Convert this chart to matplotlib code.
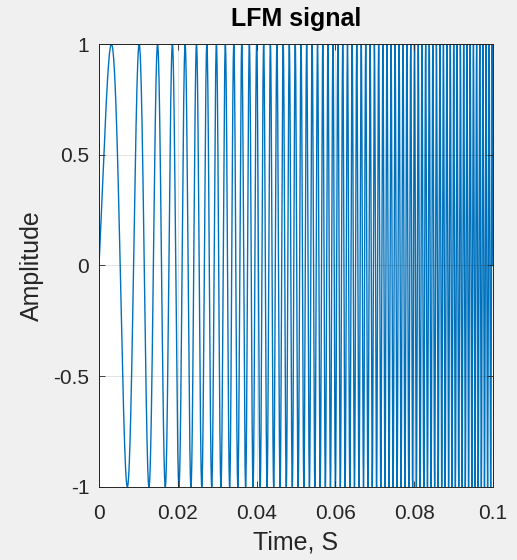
import numpy as np
import matplotlib
matplotlib.use("Agg")
import matplotlib.pyplot as plt

# LFM (chirp) parameters
duration = 0.1         # s
sample_rate = 100000   # Hz
start_freq = 60.0      # Hz
chirp_rate = 12300.0   # Hz/s

x_ticks = [0, 0.02, 0.04, 0.06, 0.08, 0.1]
x_tick_labels = ["0", "0.02", "0.04", "0.06", "0.08", "0.1"]
y_ticks = [-1, -0.5, 0, 0.5, 1]
y_tick_labels = ["-1", "-0.5", "0", "0.5", "1"]

t = np.arange(0, duration + 0.5 / sample_rate, 1.0 / sample_rate)
signal = np.sin(2 * np.pi * (start_freq * t + 0.5 * chirp_rate * t ** 2))

plt.rcParams["font.family"] = ["Liberation Sans", "DejaVu Sans"]

fig = plt.figure(figsize=(5.17, 5.6), dpi=100, facecolor="#f0f0f0")
ax = fig.add_axes([0.1915, 0.1304, 0.762, 0.791])
ax.set_facecolor("white")

ax.plot(t, signal, color="#0072BD", linewidth=1.0, zorder=1)

ax.set_xlim(0, duration)
ax.set_ylim(-1, 1)
ax.set_xticks(x_ticks)
ax.set_xticklabels(x_tick_labels)
ax.set_yticks(y_ticks)
ax.set_yticklabels(y_tick_labels)

# translucent grid drawn over the data
ax.set_axisbelow(False)
ax.grid(True, color="black", alpha=0.13, linewidth=0.6)
ax.tick_params(direction="in", length=4, width=0.6, colors="#262626",
               labelsize=15, top=True, right=True, labelcolor="#262626")
ax.tick_params(axis="x", pad=12)
ax.tick_params(axis="y", pad=7)
for s in ax.spines.values():
    s.set_color("#262626")
    s.set_linewidth(0.7)

ax.set_xlabel("Time, S", fontsize=18, color="#262626", labelpad=6)
ax.set_ylabel("Amplitude", fontsize=18, color="#262626", labelpad=6.5)
ax.set_title("LFM signal", fontsize=18, fontweight="bold", color="black", pad=13)

fig.savefig("out.png", dpi=100, facecolor=fig.get_facecolor())
